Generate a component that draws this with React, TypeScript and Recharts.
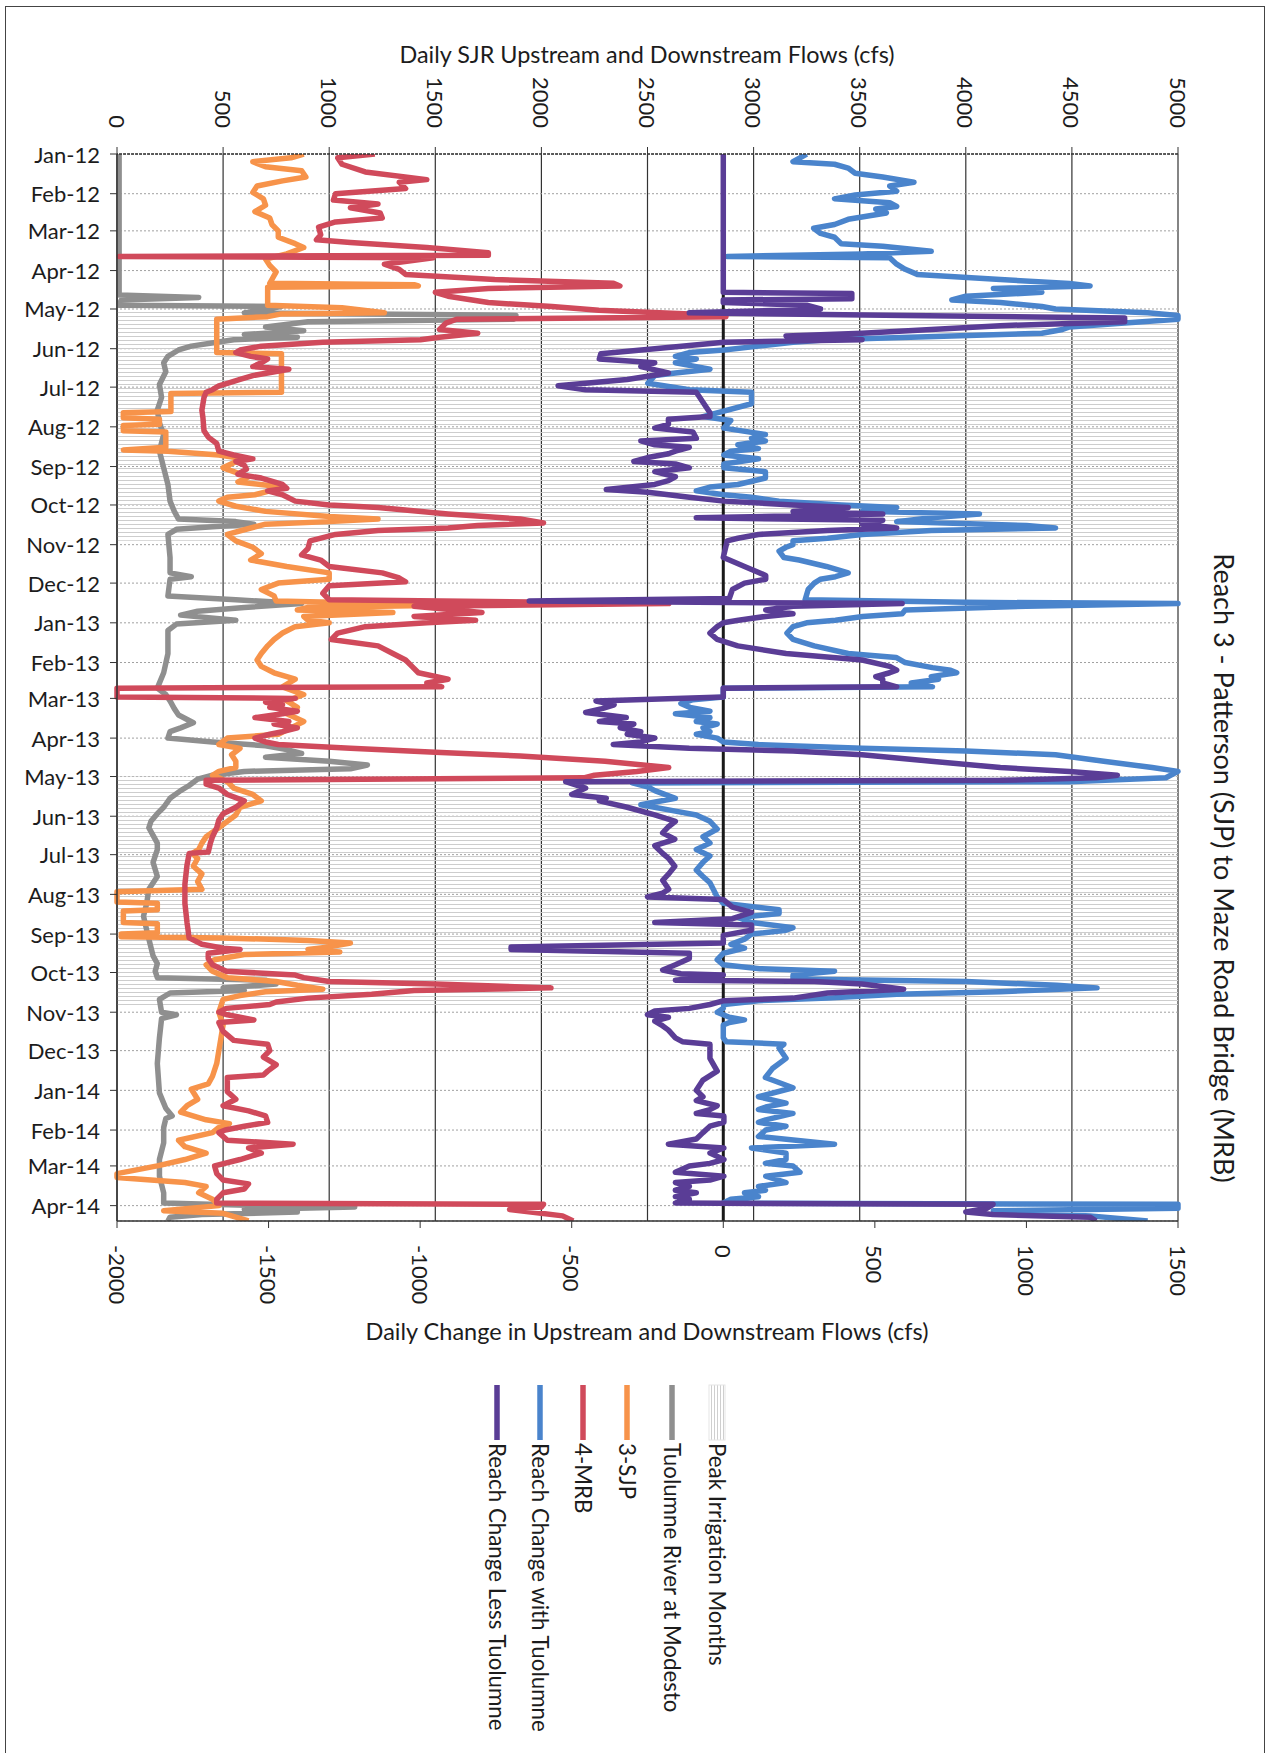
import { LineChart, Line, XAxis, YAxis, CartesianGrid, ReferenceArea, ReferenceLine } from "recharts"

// chart is drawn landscape and turned 90deg clockwise, like the scanned page
const W = 1753
const H = 1267
const FONT = "Lato, 'Open Sans', sans-serif"
const INK = "#1c1c1c"

const monthLabels = [
  "Jan-12", "Feb-12", "Mar-12", "Apr-12", "May-12", "Jun-12", "Jul-12", "Aug-12", "Sep-12", "Oct-12", "Nov-12", "Dec-12",
  "Jan-13", "Feb-13", "Mar-13", "Apr-13", "May-13", "Jun-13", "Jul-13", "Aug-13", "Sep-13", "Oct-13", "Nov-13", "Dec-13",
  "Jan-14", "Feb-14", "Mar-14", "Apr-14",
]
const monthTicks = monthLabels.map((_, i) => Math.round((Date.UTC(2012, i, 1) - Date.UTC(2012, 0, 1)) / 86400000))
const lastDay = 833
const flowTicks = [0, 500, 1000, 1500, 2000, 2500, 3000, 3500, 4000, 4500, 5000]
const changeTicks = [-2000, -1500, -1000, -500, 0, 500, 1000, 1500]

// [first day, last day] of the peak irrigation months (days since 1 Jan 2012)
const peakMonths = [[121, 302], [486, 665]]

// [day, cfs]
const tuolumne = [
  [0, 10], [20, 10], [40, 10], [60, 10], [80, 10], [100, 10], [110, 10], [112, 385], [114, 20], [118, 10], [119, 775], [121, 700],
  [124, 600], [126, 1880], [129, 1870], [131, 900], [135, 700], [138, 880], [141, 600], [143, 850], [145, 550], [147, 470],
  [150, 350], [153, 290], [158, 240], [163, 220], [170, 230], [180, 200], [190, 210], [200, 190], [210, 200], [219, 220],
  [232, 200], [245, 220], [258, 240], [271, 250], [279, 270], [285, 290], [287, 560], [289, 645], [291, 450], [293, 280],
  [297, 240], [315, 250], [327, 250], [330, 350], [332, 250], [345, 240], [348, 560], [351, 870], [354, 600], [357, 380],
  [360, 300], [364, 560], [367, 280], [372, 240], [390, 240], [405, 220], [417, 190], [422, 230], [427, 250], [433, 270],
  [438, 290], [444, 360], [448, 300], [451, 250], [456, 240], [459, 450], [462, 700], [465, 800], [468, 870], [471, 700],
  [474, 1000], [477, 1180], [480, 1100], [482, 600], [485, 450], [488, 380], [493, 340], [497, 300], [503, 250], [510, 220],
  [515, 190], [521, 160], [526, 150], [532, 170], [538, 190], [543, 190], [553, 170], [564, 190], [574, 150], [585, 140],
  [595, 125], [606, 140], [616, 155], [626, 170], [632, 190], [638, 180], [643, 190], [645, 700], [648, 750], [651, 500],
  [653, 600], [655, 250], [660, 200], [670, 210], [672, 280], [675, 210], [690, 200], [710, 190], [733, 200], [745, 230],
  [751, 260], [753, 230], [760, 220], [772, 220], [785, 200], [798, 200], [811, 220], [819, 220], [821, 700], [822, 1120],
  [824, 600], [826, 850], [828, 400], [830, 250], [833, 240],
]

const sjp3 = [
  [0, 880], [3, 820], [6, 640], [10, 700], [13, 870], [18, 890], [21, 780], [25, 660], [30, 640], [35, 690], [40, 700], [45, 650],
  [50, 720], [55, 730], [60, 760], [65, 760], [70, 840], [73, 880], [78, 800], [82, 700], [87, 720], [92, 750], [98, 730],
  [101, 720], [102, 1400], [103, 1420], [104, 710], [118, 710], [120, 1060], [124, 1260], [125, 770], [127, 710], [129, 470],
  [155, 470], [156, 775], [186, 775], [187, 254], [201, 254], [202, 30], [206, 30], [207, 200], [211, 200], [212, 30], [216, 30],
  [217, 230], [229, 230], [231, 30], [232, 240], [235, 480], [238, 600], [241, 550], [245, 500], [248, 550], [252, 620],
  [256, 570], [260, 780], [263, 720], [266, 650], [268, 520], [271, 480], [275, 560], [279, 700], [283, 1000], [285, 1230],
  [287, 1000], [289, 700], [292, 630], [297, 520], [302, 560], [307, 640], [312, 680], [317, 630], [322, 800], [327, 1000],
  [332, 1000], [335, 760], [340, 680], [345, 740], [349, 750], [352, 1600], [354, 900], [356, 850], [358, 1300], [361, 880],
  [364, 900], [366, 1000], [369, 840], [374, 780], [379, 740], [384, 710], [390, 680], [395, 660], [400, 680], [405, 740],
  [410, 840], [416, 780], [422, 880], [427, 800], [432, 850], [437, 800], [443, 880], [448, 820], [453, 760], [456, 520],
  [461, 480], [464, 580], [469, 540], [474, 560], [479, 560], [482, 480], [485, 450], [487, 480], [490, 520], [495, 550],
  [500, 640], [505, 680], [510, 580], [516, 560], [521, 520], [526, 480], [533, 420], [538, 400], [543, 385], [546, 355],
  [550, 380], [556, 360], [562, 400], [568, 380], [574, 400], [576, 0], [584, 0], [585, 190], [590, 190], [591, 30], [600, 30],
  [601, 190], [608, 190], [609, 20], [611, 20], [612, 500], [614, 900], [616, 1100], [619, 1000], [621, 900], [623, 1050],
  [625, 600], [629, 460], [633, 420], [638, 450], [643, 520], [646, 750], [649, 850], [652, 970], [654, 700], [657, 580],
  [660, 500], [670, 480], [680, 500], [690, 490], [700, 480], [710, 470], [720, 450], [726, 430], [730, 350], [738, 380],
  [743, 330], [748, 300], [754, 420], [757, 530], [760, 480], [764, 450], [770, 290], [775, 320], [780, 420], [785, 320],
  [790, 190], [796, 0], [799, 0], [803, 320], [806, 420], [811, 385], [816, 450], [821, 480], [825, 220], [827, 500],
  [830, 560], [833, 620],
]

const mrb4 = [
  [0, 1215], [3, 1040], [8, 1060], [14, 1170], [20, 1460], [22, 1330], [27, 1360], [31, 1030], [36, 1020], [39, 1230], [42, 1100],
  [46, 1240], [50, 1250], [53, 1030], [57, 950], [63, 960], [67, 940], [69, 1100], [73, 1460], [77, 1750], [79, 1750], [80, 10],
  [81, 1490], [86, 1260], [90, 1330], [94, 1360], [98, 1780], [101, 2340], [103, 2370], [105, 1750], [108, 1500], [111, 1560],
  [116, 1750], [119, 2050], [122, 2270], [125, 2700], [127, 2870], [129, 1600], [132, 1550], [137, 1520], [140, 1700],
  [143, 1520], [145, 1430], [147, 970], [150, 680], [153, 580], [155, 560], [158, 630], [160, 710], [163, 680], [166, 640],
  [168, 810], [171, 710], [173, 640], [176, 580], [179, 520], [181, 480], [184, 450], [186, 420], [190, 410], [200, 400],
  [206, 405], [216, 410], [221, 430], [226, 470], [232, 480], [235, 550], [238, 640], [240, 560], [243, 600], [246, 610],
  [250, 570], [253, 680], [258, 780], [261, 800], [263, 710], [266, 780], [271, 840], [274, 1000], [276, 1230], [281, 1560],
  [285, 1900], [288, 2010], [290, 1700], [292, 1560], [294, 1230], [297, 1030], [302, 910], [308, 900], [313, 870], [317, 960],
  [322, 1000], [327, 1250], [331, 1330], [334, 1360], [337, 1000], [343, 970], [348, 1000], [351, 2600], [353, 1400],
  [358, 1720], [361, 1400], [364, 1690], [366, 1460], [369, 1170], [374, 1040], [379, 1010], [384, 1230], [390, 1300],
  [395, 1360], [400, 1390], [405, 1420], [410, 1560], [413, 1460], [416, 1530], [417, 0], [424, 0], [425, 840], [428, 700],
  [430, 780], [432, 720], [435, 850], [437, 780], [440, 650], [443, 810], [445, 740], [448, 850], [451, 780], [453, 720],
  [456, 650], [459, 700], [461, 760], [464, 1100], [467, 1500], [470, 1900], [474, 2300], [479, 2600], [482, 2450],
  [485, 2250], [487, 2200], [489, 420], [492, 420], [495, 480], [500, 520], [505, 600], [510, 560], [515, 500], [520, 480],
  [526, 470], [533, 450], [538, 440], [545, 430], [546, 340], [555, 330], [570, 320], [585, 320], [600, 330], [612, 340],
  [617, 400], [620, 500], [621, 580], [624, 430], [628, 430], [633, 450], [638, 515], [641, 840], [643, 880], [646, 1000],
  [648, 1500], [651, 2045], [653, 1400], [656, 1200], [659, 900], [662, 750], [664, 720], [667, 515], [670, 480], [672, 520],
  [676, 645], [678, 480], [685, 500], [692, 550], [695, 710], [700, 720], [705, 690], [711, 750], [716, 710], [719, 690],
  [721, 520], [726, 520], [732, 520], [738, 560], [743, 500], [747, 620], [751, 700], [756, 710], [759, 600], [762, 510],
  [764, 480], [770, 520], [773, 830], [776, 620], [780, 680], [785, 580], [790, 460], [796, 470], [801, 500], [804, 620],
  [808, 600], [811, 500], [816, 470], [819, 470], [820, 2010], [822, 2000], [824, 1850], [826, 1950], [829, 2100], [833, 2150],
]

// [day, daily change cfs]
const changeWith = [
  [0, 275], [3, 253], [6, 230], [8, 367], [11, 412], [15, 435], [18, 526], [22, 629], [25, 549], [29, 572], [32, 435], [35, 367],
  [38, 549], [41, 572], [43, 503], [46, 538], [51, 412], [55, 367], [58, 298], [62, 321], [65, 367], [70, 389], [72, 526],
  [76, 686], [78, 458], [80, 13], [81, 549], [86, 572], [90, 600], [94, 640], [98, 914], [101, 1142], [103, 1210], [105, 891],
  [108, 1051], [111, 800], [114, 754], [116, 914], [119, 1051], [121, 1096], [124, 1400], [126, 1500], [129, 1500], [132, 1324],
  [135, 1142], [137, 1119], [140, 1051], [142, 754], [145, 344], [147, 230], [150, 116], [153, 2], [155, -112], [158, -158],
  [160, -89], [163, -158], [166, -89], [168, -44], [171, -158], [173, -226], [179, -249], [184, -112], [186, 93], [195, 93],
  [205, -67], [208, 25], [214, 2], [219, 139], [222, 93], [224, 139], [227, 48], [230, 116], [232, 25], [235, 2], [238, 116],
  [242, 2], [245, 2], [248, 139], [253, 139], [258, 48], [260, -44], [263, -89], [266, 2], [268, 93], [271, 184], [274, 389],
  [276, 572], [279, 458], [281, 845], [284, 686], [287, 572], [290, 1000], [292, 1096], [294, 686], [297, 458], [300, 344],
  [302, 230], [305, 230], [307, 207], [310, 184], [315, 200], [317, 250], [322, 340], [327, 412], [330, 370], [332, 320],
  [335, 300], [340, 280], [348, 270], [350, 800], [351, 1500], [353, 1000], [356, 600], [359, 590], [361, 460], [364, 370],
  [366, 275], [369, 230], [374, 210], [379, 230], [384, 300], [390, 412], [393, 570], [397, 600], [401, 690], [403, 750],
  [405, 770], [408, 686], [410, 710], [413, 620], [416, 690], [417, 0], [424, 0], [426, -100], [429, -140], [432, -110],
  [435, -44], [437, -158], [440, -44], [443, -89], [445, -20], [448, -67], [451, -44], [453, -89], [456, -20], [459, 0],
  [461, 116], [464, 458], [466, 800], [469, 1096], [474, 1255], [479, 1415], [482, 1500], [487, 1460], [490, 1140], [491, -300],
  [494, -250], [497, -226], [503, -158], [508, -272], [513, -158], [516, -89], [521, -44], [527, -20], [533, -67], [538, -44],
  [543, -89], [548, -44], [553, -67], [559, -89], [564, -67], [569, -44], [574, -33], [580, -20], [585, 0], [590, 184],
  [593, 184], [596, 48], [600, 93], [604, 230], [606, 207], [609, 93], [613, 70], [617, 25], [620, 70], [624, 0], [629, -20],
  [633, 0], [636, 120], [638, 367], [641, 230], [644, 230], [646, 800], [649, 1100], [651, 1233], [654, 914], [656, 572],
  [659, 344], [661, 116], [664, 2], [667, 0], [670, -20], [674, 20], [676, 70], [678, 20], [680, 0], [690, 0], [693, 10],
  [695, 200], [698, 184], [706, 207], [714, 162], [721, 139], [729, 230], [736, 116], [741, 207], [744, 140], [746, 116],
  [749, 230], [754, 140], [756, 116], [759, 207], [762, 140], [767, 116], [773, 367], [776, 93], [780, 207], [785, 207],
  [788, 139], [790, 230], [795, 253], [798, 140], [803, 207], [806, 116], [809, 139], [811, 70], [814, 116], [816, 25],
  [819, 0], [820, 1500], [823, 1500], [825, 891], [829, 1210], [833, 1400],
]

const changeLess = [
  [0, 0], [100, 0], [103, 0], [108, 0], [109, 424], [113, 424], [114, 0], [116, 0], [118, 275], [121, 321], [124, -112],
  [126, 600], [128, 1324], [131, 1324], [134, 914], [137, 686], [140, 458], [142, 207], [145, 458], [147, 2], [152, -226],
  [156, -404], [160, -409], [163, -226], [166, -272], [171, -181], [176, -317], [181, -545], [184, -454], [186, -89],
  [202, -44], [205, -44], [207, -181], [211, -181], [214, -226], [217, -100], [222, -89], [224, -272], [227, -226],
  [229, -112], [232, -158], [234, -181], [237, -249], [240, -295], [242, -158], [245, -112], [248, -226], [252, -158],
  [255, -181], [258, -226], [262, -386], [264, -249], [268, -112], [271, 2], [274, 230], [276, 412], [279, 230], [281, 526],
  [284, -89], [286, 526], [289, 458], [292, 572], [294, 344], [297, 116], [300, 48], [302, 13], [315, 0], [317, 20], [322, 70],
  [329, 140], [332, 140], [335, 70], [340, 30], [347, 20], [349, -640], [351, 590], [353, 230], [356, 140], [359, 230],
  [361, 140], [364, 50], [366, 0], [369, -20], [374, -44], [379, -20], [384, 48], [390, 207], [395, 458], [400, 549],
  [403, 572], [405, 549], [408, 503], [410, 526], [413, 526], [416, 572], [417, 0], [424, 0], [427, -420], [430, -360],
  [433, -400], [436, -454], [440, -320], [443, -409], [445, -295], [448, -340], [451, -272], [453, -317], [456, -226],
  [459, -272], [461, -363], [464, -112], [466, 230], [469, 458], [474, 686], [479, 914], [482, 1142], [485, 1300], [487, 1230],
  [489, 914], [490, -520], [495, -454], [500, -500], [503, -386], [505, -409], [510, -317], [516, -226], [521, -158],
  [525, -180], [530, -200], [535, -160], [540, -226], [546, -200], [550, -180], [556, -160], [562, -180], [567, -200],
  [574, -180], [577, -200], [580, -250], [582, 0], [588, 30], [592, 93], [597, 30], [600, -226], [602, 93], [606, 93], [610, 0],
  [616, 0], [619, -700], [621, -700], [624, -112], [628, -112], [633, -158], [637, -200], [640, -140], [641, 0], [645, -158],
  [646, 300], [648, 458], [652, 595], [655, 344], [659, 230], [661, 2], [664, -44], [667, -112], [669, -226], [672, -250],
  [674, -181], [677, -226], [680, -204], [684, -181], [690, -158], [693, -135], [695, -44], [698, -44], [706, -44], [716, -20],
  [723, -67], [731, -89], [736, -67], [739, -89], [743, -20], [746, -44], [749, -89], [751, 2], [756, 2], [759, -44],
  [764, -67], [769, -89], [773, -181], [776, 2], [780, -44], [785, 2], [788, -44], [790, -112], [795, -158], [798, 2],
  [801, -44], [803, -158], [806, -112], [809, -158], [811, -89], [814, -158], [816, -112], [819, -158], [820, 890], [823, 870],
  [826, 800], [828, 890], [830, 1210], [833, 1230],
]

const series = [
  { name: "Tuolumne River at Modesto", data: tuolumne, axis: "flow", color: "#8f8f8f" },
  { name: "3-SJP", data: sjp3, axis: "flow", color: "#f7934a" },
  { name: "4-MRB", data: mrb4, axis: "flow", color: "#d04a5b" },
  { name: "Reach Change with Tuolumne", data: changeWith, axis: "chg", color: "#4a84cc" },
  { name: "Reach Change Less Tuolumne", data: changeLess, axis: "chg", color: "#5a3d96" },
]

const pts = (a: number[][]) => a.map(([d, v]) => ({ d, v }))

// plot box in the landscape frame
const PLOT_LEFT = 154
const PLOT_RIGHT = 1221
const PLOT_TOP = 89
const PLOT_BOTTOM = 1150

function DateTick({ x, payload }: any) {
  const i = monthTicks.indexOf(payload.value)
  const y = PLOT_BOTTOM + 17
  return (
    <text x={x} y={y} transform={`rotate(-90 ${x} ${y})`} textAnchor="end" dominantBaseline="central"
      fontSize={22} fontFamily={FONT} fill={INK}>{monthLabels[i]}</text>
  )
}

function FlowTick({ y, payload }: any) {
  return <text x={PLOT_LEFT - 26} y={y} textAnchor="end" dominantBaseline="central" fontSize={22} fontFamily={FONT} fill={INK}>{payload.value}</text>
}

function ChangeTick({ y, payload }: any) {
  return <text x={PLOT_RIGHT + 24} y={y} textAnchor="start" dominantBaseline="central" fontSize={22} fontFamily={FONT} fill={INK}>{payload.value}</text>
}

const legendRows = [550, 595, 640, 684, 727, 770]

export default function App() {
  return (
    <div style={{ position: "absolute", left: 0, top: 0, width: 1267, height: 1753, overflow: "hidden", background: "#fff" }}>
      <div style={{ position: "absolute", left: 0, top: 0, width: W, height: H, transformOrigin: "0 0", transform: "translateX(1267px) rotate(90deg)" }}>
        <LineChart width={W} height={H} margin={{ top: PLOT_TOP, right: W - PLOT_RIGHT - 80, bottom: H - PLOT_BOTTOM - 60, left: PLOT_LEFT - 80 }}>
          <defs>
            <pattern id="hatch" width="4" height="10" patternUnits="userSpaceOnUse">
              <line x1="0.5" y1="0" x2="0.5" y2="10" stroke="#cdcdcd" strokeWidth="1" />
            </pattern>
          </defs>
          {peakMonths.map(([a, b]) => (
            <ReferenceArea key={a} yAxisId="flow" x1={a} x2={b} y1={0} y2={5000} fill="url(#hatch)" fillOpacity={1} stroke="none" />
          ))}
          <CartesianGrid yAxisId="flow" vertical={false} stroke="#333" strokeWidth={1.2} />
          <CartesianGrid yAxisId="flow" horizontal={false} stroke="#a0a0a0" strokeDasharray="2 2" />
          <XAxis dataKey="d" type="number" domain={[0, lastDay]} ticks={monthTicks} interval={0} allowDataOverflow
            height={60} tickSize={7} tick={<DateTick />} axisLine={{ stroke: "#333", strokeWidth: 1.5 }} tickLine={{ stroke: "#333" }} />
          <YAxis yAxisId="flow" orientation="left" type="number" domain={[0, 5000]} ticks={flowTicks} interval={0} width={80}
            tickSize={7} tick={<FlowTick />} axisLine={{ stroke: "#333", strokeWidth: 1.5, strokeDasharray: "3 1" }} tickLine={{ stroke: "#333" }} />
          <YAxis yAxisId="chg" orientation="right" type="number" domain={[-2000, 1500]} ticks={changeTicks} interval={0} width={80}
            tickSize={7} tick={<ChangeTick />} axisLine={{ stroke: "#333", strokeWidth: 1.5 }} tickLine={{ stroke: "#333" }} />
          <ReferenceLine yAxisId="chg" y={0} stroke="#1a1a1a" strokeWidth={3} />
          {series.map(s => (
            <Line key={s.name} yAxisId={s.axis} data={pts(s.data)} dataKey="v" name={s.name} type="linear"
              stroke={s.color} strokeWidth={5.5} strokeLinejoin="round" dot={false} activeDot={false} isAnimationActive={false} />
          ))}
        </LineChart>
        <svg width={W} height={H} style={{ position: "absolute", left: 0, top: 0, pointerEvents: "none" }} fontFamily={FONT}>
          <defs>
            <pattern id="hatchLegend" width="10" height="3" patternUnits="userSpaceOnUse">
              <line x1="0" y1="0.5" x2="10" y2="0.5" stroke="#cfcfcf" strokeWidth="1" />
            </pattern>
          </defs>
          <text x={868} y={43} textAnchor="middle" dominantBaseline="central" fontSize={27} fill={INK}>
            Reach 3 - Patterson (SJP) to Maze Road Bridge (MRB)
          </text>
          <text x={54} y={620} transform="rotate(-90 54 620)" textAnchor="middle" dominantBaseline="central" fontSize={23.4} fill={INK}>
            Daily SJR Upstream and Downstream Flows (cfs)
          </text>
          <text x={1331} y={620} transform="rotate(-90 1331 620)" textAnchor="middle" dominantBaseline="central" fontSize={23.5} fill={INK}>
            Daily Change in Upstream and Downstream Flows (cfs)
          </text>
          <rect x={1385} y={legendRows[0] - 8} width={55} height={16} fill="url(#hatchLegend)" stroke="#e6e6e6" />
          <text x={1443} y={legendRows[0]} dominantBaseline="central" fontSize={22.3} fill={INK}>Peak Irrigation Months</text>
          {series.map((s, i) => (
            <g key={s.name}>
              <line x1={1385} x2={1440} y1={legendRows[i + 1]} y2={legendRows[i + 1]} stroke={s.color} strokeWidth={5.5} />
              <text x={1443} y={legendRows[i + 1]} dominantBaseline="central" fontSize={22.3} fill={INK}>{s.name}</text>
            </g>
          ))}
        </svg>
      </div>
      <div style={{ position: "absolute", left: 5, top: 6, width: 1258, height: 1800, border: "1.5px solid #444" }} />
    </div>
  )
}
